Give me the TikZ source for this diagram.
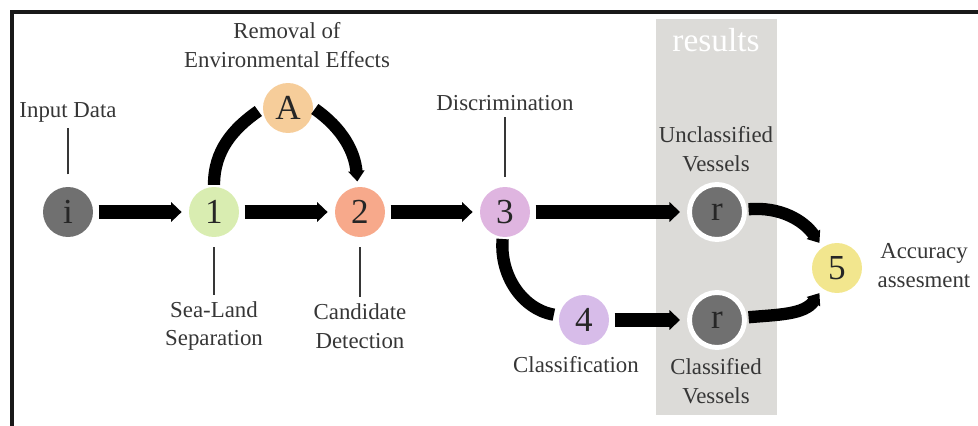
\documentclass[tikz,border=0pt]{standalone}
\usepackage{fontspec}
\setmainfont{Liberation Serif}
\usetikzlibrary{arrows.meta,positioning,calc}

\definecolor{txtgray}{HTML}{363636}
\definecolor{dotgray}{HTML}{707070}
\definecolor{bandgray}{HTML}{DCDBD8}
\definecolor{sepgreen}{HTML}{D9EDB1}
\definecolor{detsalmon}{HTML}{F7A98B}
\definecolor{envorange}{HTML}{F6CD9A}
\definecolor{discpink}{HTML}{DFB5E0}
\definecolor{claslilac}{HTML}{D7BCE9}
\definecolor{accyellow}{HTML}{F2E68E}

\begin{document}
\begin{tikzpicture}[x=0.02cm, y=-0.02cm,
            every node/.style={font=\fontsize{13}{16.5}\selectfont, text=txtgray, align=center},
            stage/.style={circle, minimum size=1cm, inner sep=0pt,
                          font=\fontsize{20}{22}\selectfont, text=black!85},
            result/.style={stage, fill=dotgray, draw=white, line width=2.8pt, minimum size=1.1cm},
            flow/.style={line width=8.5pt, shorten <=3pt, shorten >=4pt,
                         -{Triangle[length=6pt, width=11pt]}},
            curveflow/.style={line width=7pt, shorten <=1pt, shorten >=3pt},
            tick/.style={draw=txtgray, line width=0.8pt, shorten <=5.5pt}]
        \useasboundingbox (0,0) rectangle (978,426);

        % results band
        \fill[bandgray] (656,19) rectangle (777,415);
        \node[text=white, font=\fontsize{19}{20}\selectfont] (res) at (716,40) {results};

        % frame
        \draw[line width=2.8pt, black!90] (12,426) -- (12,12) -- (978,12);

        % stages
        \node[stage, fill=dotgray] (i) at (68,212) {i};
        \node[stage, fill=sepgreen] (n1) at (214,212) {1};
        \node[stage, fill=envorange] (A) at (288,108) {A};
        \node[stage, fill=detsalmon] (n2) at (360,212) {2};
        \node[stage, fill=discpink] (n3) at (505,212) {3};
        \node[stage, fill=claslilac] (n4) at (584,320) {4};
        \node[result] (r1) at (717,212) {r};
        \node[result] (r2) at (717,320) {r};
        \node[stage, fill=accyellow] (n5) at (837,268) {5};

        % labels
        \node (input) at (68,112) {Input Data};
        \node (removal) at (287,45) {Removal of\\Environmental Effects};
        \node (discr) at (505,103) {Discrimination};
        \node (sealand) at (214,326) {Sea-Land\\Separation};
        \node (cand) at (360,326) {Candidate\\Detection};
        \node (classif) at (576,365) {Classification};
        \node (uncl) at (716,149) {Unclassified\\Vessels};
        \node (clfd) at (716,381) {Classified\\Vessels};
        \node (acc) at (924,266) {Accuracy\\assesment};

        \draw[tick, shorten <=7pt] (i) -- (input);
        \draw[tick] (n1) -- (sealand);
        \draw[tick] (n2) -- (cand);
        \draw[tick] (n3) -- (discr);

        % connectors
        \draw[flow] (i) -- (n1);
        \draw[flow] (n1) -- (n2);
        \draw[flow] (n2) -- (n3);
        \draw[flow] (n3) -- (r1);
        \draw[flow] (n4) -- (r2);
        \draw[curveflow] (n1) to[out=90, in=215] (A.west);
        \draw[curveflow, -{Triangle[length=6pt, width=9pt]}] (A.east) to[out=-35, in=95] (n2);
        \draw[curveflow] (n3) to[out=-95, in=170] (n4);
        \draw[curveflow, -{Triangle[length=6pt, width=9pt]}] (r1) to[out=5, in=125] (n5);
        \draw[curveflow, -{Triangle[length=6pt, width=9pt]}] (r2) to[out=5, in=235] (n5);
\end{tikzpicture}
\end{document}
